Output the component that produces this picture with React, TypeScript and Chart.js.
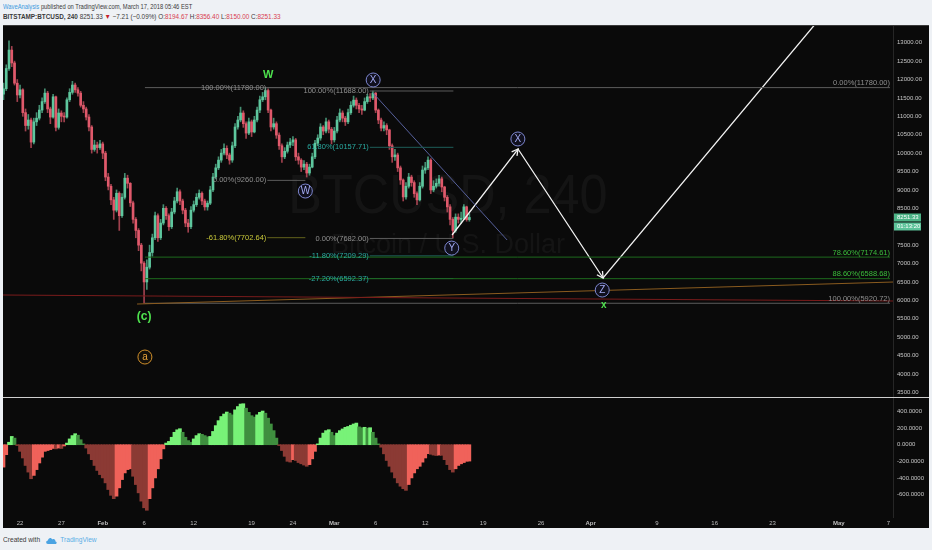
import React, { useEffect, useRef } from "react";
import { Chart, registerables } from "chart.js";
Chart.register(...registerables);

// ---------- time base: day numbers (Jan 1 2018 = 0), 8h candles ----------
const START_DAY = 19; // Jan 20 2018
const CANDLE_STEP = 1 / 3;
const X_MIN = 18.94;
const X_MAX = 126.56;

// ---------- price data (BITSTAMP:BTCUSD) ----------
const opens = [11600,11750,12300,12800,12450,11900,11580,11720,11100,10750,
10900,10300,10850,10950,11170,11400,11630,11200,10980,11530,
10700,11090,11000,10980,11450,11650,11850,11720,11630,11300,
11200,10980,10710,10100,10220,10150,10250,10000,9350,9100,
8730,8450,8910,8300,8800,9320,9180,8650,8200,7900,
7500,7010,6500,6900,7300,7700,8300,7700,8100,8500,
8300,8000,8400,8700,8950,8700,8450,8100,8000,8450,
8600,8800,8910,8700,8540,8640,9000,9350,9600,9810,
10000,10130,9950,9810,10200,10710,10900,11090,10800,10545,
10850,10575,10900,11170,11450,11530,11700,11170,10710,10800,
10490,10200,9900,10050,10220,10300,10360,9900,9810,9620,
9700,9460,9620,9900,10270,10410,10710,10600,10850,10650,
10360,10600,10900,11090,10950,10850,11100,11300,11440,11300,
11200,11170,11400,11530,11500,11630,11170,10900,10680,10750,
10630,10200,9900,9950,9600,9270,8810,9100,9350,9200,
8900,8730,9100,9540,9600,9810,9000,9100,9180,9300,
9080,8800,8540,8200,7900,8260,8200,8230,8540,8194.67];

const highs = [11900,12400,13050,12900,12500,12000,11850,11750,11200,11050,
10950,10950,11100,11300,11500,11750,11680,11250,11600,11550,
11200,11150,11100,11500,11750,11950,11900,11780,11680,11400,
11250,11050,10750,10350,10300,10350,10300,10050,9450,9150,
8800,9000,8950,8900,9450,9400,9200,8700,8250,7950,
7550,7050,7100,7500,7800,8400,8350,8200,8600,8550,
8350,8500,8800,9050,9000,8750,8500,8200,8550,8700,
8900,9000,8950,8750,8700,9100,9450,9700,9900,10100,
10250,10200,10000,10300,10800,11000,11250,11150,10850,10950,
10900,11000,11250,11550,11650,11780,11750,11200,10950,10850,
10550,10250,10150,10300,10400,10450,10400,10000,9850,9800,
9750,9700,10000,10350,10500,10800,10750,10950,10900,10700,
10700,11000,11200,11150,11000,11200,11400,11550,11500,11350,
11300,11500,11600,11620,11688,11650,11200,10950,10850,10800,
10650,10250,10100,10000,9650,9300,9200,9450,9400,9250,
8950,9200,9650,9750,9900,9850,9250,9300,9400,9350,
9100,8850,8600,8250,8350,8350,8400,8600,8560,8356.40];

const lows = [11450,11700,12250,12350,11850,11400,11500,11000,10600,10650,
10150,10250,10750,10900,11100,11350,11100,10800,10950,10600,
10650,10850,10850,10950,11400,11600,11650,11550,11250,11100,
10900,10600,10000,10050,10000,10100,9850,9250,9000,8600,
8200,8400,7900,8250,8750,9050,8550,8100,7700,7350,
6800,5920.72,6300,6850,7200,7650,7600,7650,8050,8200,
7900,7950,8350,8650,8600,8350,8000,7850,7950,8400,
8550,8750,8600,8450,8450,8600,8950,9300,9550,9750,
9950,9850,9700,9750,10150,10650,10850,10700,10400,10500,
10450,10550,10850,11100,11400,11450,11100,10600,10650,10400,
10100,9750,9850,10000,10150,10200,9800,9700,9500,9550,
9350,9400,9600,9850,10200,10350,10500,10550,10550,10250,
10300,10550,10850,10850,10750,10800,11050,11250,11200,11100,
11050,11150,11350,11400,11450,11100,10800,10600,10600,10500,
10100,9750,9800,9500,9150,8700,8750,9050,9100,8800,
8600,8700,9050,9450,9550,8900,8950,9050,9100,8950,
8700,8400,8050,7700,7850,8100,8100,8200,8150,8150];

const closes = [11750,12300,12800,12450,11900,11580,11720,11100,10750,10900,
10300,10850,10950,11170,11400,11630,11200,10980,11530,10700,
11090,11000,10980,11450,11650,11850,11720,11630,11300,11200,
10980,10710,10100,10220,10150,10250,10000,9350,9100,8730,
8450,8910,8300,8800,9320,9180,8650,8200,7900,7500,
7010,6500,6900,7300,7700,8300,7700,8100,8500,8300,
8000,8400,8700,8950,8700,8450,8100,8000,8450,8600,
8800,8910,8700,8540,8640,9000,9350,9600,9810,10000,
10130,9950,9810,10200,10710,10900,11090,10800,10545,10850,
10575,10900,11170,11450,11530,11700,11170,10710,10800,10490,
10200,9900,10050,10220,10300,10360,9900,9810,9620,9700,
9460,9620,9900,10270,10410,10710,10600,10850,10650,10360,
10600,10900,11090,10950,10850,11100,11300,11440,11300,11200,
11170,11400,11530,11500,11630,11170,10900,10680,10750,10630,
10200,9900,9950,9600,9270,8810,9100,9350,9200,8900,
8730,9100,9540,9600,9810,9000,9100,9180,9300,9080,
8800,8540,8200,7900,8260,8200,8230,8540,8194.67,8251.33];

// ---------- oscillator histogram ----------
const oscillator = [-270,-120,30,100,80,-10,-80,-160,-250,-330,
-410,-370,-300,-220,-150,-80,-70,-60,-45,-50,
-40,-45,-15,20,70,110,133,115,60,10,
-40,-110,-180,-250,-310,-360,-400,-460,-540,-610,
-650,-620,-520,-420,-340,-300,-290,-380,-480,-580,
-680,-760,-790,-650,-520,-400,-290,-170,-50,20,
40,90,150,180,193,150,90,50,30,70,
110,133,125,110,95,100,160,230,290,340,
370,394,380,360,420,460,490,494,440,390,
350,333,360,390,406,380,320,250,170,80,
-10,-70,-140,-200,-209,-180,-190,-215,-230,-245,
-260,-240,-170,-80,10,80,140,170,181,150,
110,140,170,190,210,220,235,250,261,215,
205,210,200,205,150,80,10,-30,-110,-190,
-260,-330,-400,-460,-500,-530,-550,-480,-400,-340,
-290,-260,-210,-160,-108,-115,-125,-130,-125,-128,
-180,-240,-300,-330,-290,-250,-230,-215,-200,-197];

// ---------- axes ----------
const PRICE_MIN = 3374;
const PRICE_MAX = 13454;
const priceTicks = [3500,4000,4500,5000,5500,6000,6500,7000,7500,8000,8500,9000,9500,10000,10500,11000,11500,12000,12500,13000];
const OSC_MIN = -871;
const OSC_MAX = 563;
const oscTicks = [400, 200, 0, -200, -400, -600];
const dateTickDays = [21, 26, 31, 36, 42, 49, 54, 59, 64, 70, 77, 84, 90, 98, 105, 112, 120, 126];
const dateTickLabels = ["22", "27", "Feb", "6", "12", "19", "24", "Mar", "6", "12", "19", "26", "Apr", "9", "16", "23", "May", "7"];
const monthLabels = ["Feb", "Mar", "Apr", "May"];

const LAST_PRICE = 8251.33;
const COUNTDOWN = "01:13:20";

// ---------- drawings (day, price) ----------
const fibRightSpan = [36.1, 126.2];
const fibRightLevels = [11780, 7174.61, 6588.68, 5920.72];
const fibRightLabels = ["0.00%(11780.00)", "78.60%(7174.61)", "88.60%(6588.68)", "100.00%(5920.72)"];

const fibWSpan = [50.9, 55.5];
const fibWLevels = [11780, 9260, 7702.64];
const fibWLabels = ["100.00%(11780.00)", "0.00%(9260.00)", "-61.80%(7702.64)"];

const fibXSpan = [63.3, 73.4];
const fibXLevels = [11688, 10157.71, 7682, 7209.29, 6592.37];
const fibXLabels = ["100.00%(11688.00)", "61.80%(10157.71)", "0.00%(7682.00)", "-11.80%(7209.29)", "-27.20%(6592.37)"];

const redLineDays = [18.94, 126.56];
const redLinePrices = [6145, 5982];
const orangeLineDays = [35.15, 126.56];
const orangeLinePrices = [5900, 6498];
const trendDays = [63.7, 79.9];
const trendPrices = [11630, 7639];
const pathDays = [73.24, 81.22, 91.5, 118.9];
const pathPrices = [7775, 10112, 6607, 13975];

const circleDays = [63.7, 55.5, 73.2, 81.2, 91.4];
const circlePrices = [11987, 8970, 7420, 10384, 6280];
const circleTexts = ["X", "W", "Y", "X", "Z"];

const greenDays = [51.0, 36.0, 91.6];
const greenPrices = [12120, 5547, 5873];
const greenTexts = ["W", "(c)", "x"];
const greenSizes = [11, 12, 10];

const orangeCircleDay = 36.1;
const orangeCirclePrice = 4460;

// ---------- styles ----------
const FONT = '"Liberation Sans", Arial, sans-serif';
const BG = "#0a0a0a";
const UP = "#5ec79e";
const DOWN = "#e0596b";
const UP_WICK = "rgba(94,199,158,0.7)";
const DOWN_WICK = "rgba(224,89,107,0.7)";
const GRAY_LINE = "#5c5c5c";
const GRAY_TEXT = "#8f8f8f";
const GREEN_LINE = "#1d6a1d";
const GREEN_TEXT = "#3bbd3b";
const TEAL_LINE = "#1e5e59";
const TEAL_TEXT = "#2aaaa0";
const YELLOW_LINE = "#62621c";
const YELLOW_TEXT = "#c8c83a";
const fibRightLine = [GRAY_LINE, GREEN_LINE, GREEN_LINE, GRAY_LINE];
const fibRightText = [GRAY_TEXT, GREEN_TEXT, GREEN_TEXT, GRAY_TEXT];
const fibWLine = [GRAY_LINE, GRAY_LINE, YELLOW_LINE];
const fibWText = [GRAY_TEXT, GRAY_TEXT, YELLOW_TEXT];
const fibXLine = [GRAY_LINE, TEAL_LINE, GRAY_LINE, TEAL_LINE, TEAL_LINE];
const fibXText = [GRAY_TEXT, TEAL_TEXT, GRAY_TEXT, TEAL_TEXT, TEAL_TEXT];

function lineDs(days: number[], prices: number[], color: string, width = 1) {
  return {
    type: "line" as const,
    data: days.map((d, i) => ({ x: d, y: prices[i] })),
    borderColor: color,
    borderWidth: width,
    pointRadius: 0,
    fill: false,
    tension: 0,
    order: 2,
  };
}

function levelDs(span: number[], levels: number[], colors: string[]) {
  return levels.map((lv, k) => lineDs(span, [lv, lv], colors[k]));
}

const noPad = (s: any) => {
  s.paddingTop = 0;
  s.paddingBottom = 0;
  s.paddingLeft = 0;
  s.paddingRight = 0;
};

const bgPlugin = {
  id: "bg",
  beforeDraw(chart: any) {
    const { ctx, width, height } = chart;
    ctx.save();
    ctx.fillStyle = BG;
    ctx.fillRect(0, 0, width, height);
    ctx.restore();
  },
};

function arrowHead(ctx: any, x0: number, y0: number, x1: number, y1: number) {
  const a = Math.atan2(y1 - y0, x1 - x0);
  const len = 7;
  ctx.beginPath();
  ctx.moveTo(x1 - len * Math.cos(a - 0.5), y1 - len * Math.sin(a - 0.5));
  ctx.lineTo(x1, y1);
  ctx.lineTo(x1 - len * Math.cos(a + 0.5), y1 - len * Math.sin(a + 0.5));
  ctx.stroke();
}

const mainPlugin = {
  id: "mainDecor",
  beforeDatasetsDraw(chart: any) {
    const { ctx, chartArea } = chart;
    const cx = (chartArea.left + chartArea.right) / 2;
    ctx.save();
    ctx.fillStyle = "rgba(255,255,255,0.045)";
    ctx.textAlign = "center";
    ctx.textBaseline = "alphabetic";
    ctx.font = `56px ${FONT}`;
    ctx.save();
    ctx.translate(cx, 188);
    ctx.scale(0.9, 1);
    ctx.fillText("BTCUSD, 240", 0, 0);
    ctx.restore();
    ctx.font = `27px ${FONT}`;
    ctx.fillText("Bitcoin / U.S. Dollar", cx, 228);
    ctx.restore();
  },
  afterDatasetsDraw(chart: any) {
    const { ctx, chartArea, scales } = chart;
    const px = (d: number) => scales.x.getPixelForValue(d);
    const py = (p: number) => scales.y.getPixelForValue(p);
    ctx.save();
    ctx.beginPath();
    ctx.rect(chartArea.left, chartArea.top, chartArea.width, chartArea.height);
    ctx.clip();

    ctx.font = `7.5px ${FONT}`;
    ctx.textAlign = "right";
    ctx.textBaseline = "bottom";
    fibRightLevels.forEach((lv, k) => {
      ctx.fillStyle = fibRightText[k];
      ctx.fillText(fibRightLabels[k], px(fibRightSpan[1]), py(lv) - 0.5);
    });
    ctx.textBaseline = "middle";
    fibWLevels.forEach((lv, k) => {
      ctx.fillStyle = fibWText[k];
      ctx.fillText(fibWLabels[k], px(fibWSpan[0]) - 1, py(lv));
    });
    fibXLevels.forEach((lv, k) => {
      ctx.fillStyle = fibXText[k];
      ctx.fillText(fibXLabels[k], px(fibXSpan[0]) - 1, py(lv));
    });

    ctx.strokeStyle = "#f2f2f2";
    ctx.lineWidth = 1.3;
    for (let k = 1; k < 3; k++) {
      arrowHead(ctx, px(pathDays[k - 1]), py(pathPrices[k - 1]), px(pathDays[k]), py(pathPrices[k]));
    }

    ctx.textAlign = "center";
    ctx.textBaseline = "middle";
    circleDays.forEach((d, k) => {
      const x = px(d), y = py(circlePrices[k]);
      ctx.beginPath();
      ctx.arc(x, y, 7, 0, Math.PI * 2);
      ctx.fillStyle = "#10101e";
      ctx.fill();
      ctx.strokeStyle = "#7d86cf";
      ctx.lineWidth = 1;
      ctx.stroke();
      ctx.fillStyle = "#a2a9f0";
      ctx.font = `10px ${FONT}`;
      ctx.fillText(circleTexts[k], x, y + 0.5);
    });
    {
      const x = px(orangeCircleDay), y = py(orangeCirclePrice);
      ctx.beginPath();
      ctx.arc(x, y, 7, 0, Math.PI * 2);
      ctx.fillStyle = "#14100a";
      ctx.fill();
      ctx.strokeStyle = "#d08f2a";
      ctx.stroke();
      ctx.fillStyle = "#eaa53c";
      ctx.font = `10px ${FONT}`;
      ctx.fillText("a", x, y);
    }
    greenDays.forEach((d, k) => {
      ctx.fillStyle = "#4ee24e";
      ctx.font = `bold ${greenSizes[k]}px ${FONT}`;
      ctx.fillText(greenTexts[k], px(d), py(greenPrices[k]));
    });
    ctx.restore();
  },
  afterDraw(chart: any) {
    const { ctx, chartArea, scales, width } = chart;
    const y = scales.y.getPixelForValue(LAST_PRICE);
    ctx.save();
    ctx.fillStyle = "#3a3a3a";
    ctx.fillRect(0, 0, width, 1);
    ctx.fillStyle = "#4db487";
    ctx.fillRect(chartArea.right + 1, y - 4, 27, 8);
    ctx.fillStyle = "#5dc39a";
    ctx.fillRect(chartArea.right + 1, y + 5, 27, 8);
    ctx.fillStyle = "#ffffff";
    ctx.font = `6px ${FONT}`;
    ctx.textAlign = "left";
    ctx.textBaseline = "middle";
    ctx.fillText(LAST_PRICE.toFixed(2), chartArea.right + 4, y);
    ctx.fillText(COUNTDOWN, chartArea.right + 4, y + 9);
    ctx.restore();
  },
};

const oscPlugin = {
  id: "oscDecor",
  afterDraw(chart: any) {
    const { ctx, width } = chart;
    ctx.save();
    ctx.fillStyle = "#cfcfcf";
    ctx.fillRect(0, 0, width, 1);
    ctx.restore();
  },
};

export default function App() {
  const mainRef = useRef<HTMLCanvasElement>(null);
  const oscRef = useRef<HTMLCanvasElement>(null);

  useEffect(() => {
    const candleX = closes.map((_, i) => START_DAY + i * CANDLE_STEP);
    const isUp = (i: number) => closes[i] >= opens[i];

    const wickDs = {
      type: "bar" as const,
      data: candleX.map((x, i) => ({ x, y: [lows[i], highs[i]] })),
      backgroundColor: (c: any) => (isUp(c.dataIndex) ? UP_WICK : DOWN_WICK),
      barThickness: 1,
      grouped: false,
      borderWidth: 0,
      order: 20,
    };
    const bodyDs = {
      type: "bar" as const,
      data: candleX.map((x, i) => ({ x, y: [opens[i], closes[i]] })),
      backgroundColor: (c: any) => (isUp(c.dataIndex) ? UP : DOWN),
      barThickness: 2,
      grouped: false,
      borderWidth: 0,
      minBarLength: 1,
      order: 10,
    };

    const datasets: any[] = [
      wickDs,
      bodyDs,
      lineDs(redLineDays, redLinePrices, "#7a1c1c"),
      lineDs(orangeLineDays, orangeLinePrices, "#8a5b1f"),
      ...levelDs(fibRightSpan, fibRightLevels, fibRightLine),
      ...levelDs(fibWSpan, fibWLevels, fibWLine),
      ...levelDs(fibXSpan, fibXLevels, fibXLine),
      lineDs(trendDays, trendPrices, "#56609c"),
      lineDs(pathDays, pathPrices, "#f2f2f2", 1.3),
    ];

    const tickFont = { size: 6, family: FONT };

    const main = new Chart(mainRef.current!, {
      type: "bar",
      data: { datasets },
      options: {
        responsive: false,
        animation: false,
        events: [],
        layout: { padding: { left: 0, right: 0, top: 1, bottom: 0 } },
        plugins: { legend: { display: false }, tooltip: { enabled: false } },
        scales: {
          x: { type: "linear", min: X_MIN, max: X_MAX, display: false, offset: false },
          y: {
            type: "linear",
            position: "right",
            min: PRICE_MIN,
            max: PRICE_MAX,
            afterFit: (s: any) => { s.width = 36; noPad(s); },
            afterBuildTicks: (s: any) => { s.ticks = priceTicks.map((v) => ({ value: v })); },
            grid: { display: false, drawTicks: false },
            border: { display: true, color: "#262626" },
            ticks: { color: "#c6c6c6", font: tickFont, padding: 4, autoSkip: false, callback: (v: any) => Number(v).toFixed(2) },
          },
        },
      } as any,
      plugins: [bgPlugin, mainPlugin],
    });

    const osc = new Chart(oscRef.current!, {
      type: "bar",
      data: {
        datasets: [
          {
            data: candleX.map((x, i) => ({ x, y: oscillator[i] })),
            backgroundColor: (c: any) => {
              const i = c.dataIndex;
              const v = oscillator[i];
              const prev = i > 0 ? oscillator[i - 1] : v;
              if (v >= 0) return v >= prev ? "#78f278" : "#3f8f3f";
              return v < prev ? "#8b3a34" : "#f0625a";
            },
            barThickness: 3,
            borderWidth: 0,
            grouped: false,
          } as any,
        ],
      },
      options: {
        responsive: false,
        animation: false,
        events: [],
        layout: { padding: { left: 0, right: 0, top: 1, bottom: 0 } },
        plugins: { legend: { display: false }, tooltip: { enabled: false } },
        scales: {
          x: {
            type: "linear",
            min: X_MIN,
            max: X_MAX,
            offset: false,
            afterFit: (s: any) => { s.height = 11; noPad(s); },
            afterBuildTicks: (s: any) => { s.ticks = dateTickDays.map((v) => ({ value: v })); },
            grid: { display: false, drawTicks: false },
            border: { display: false },
            ticks: {
              autoSkip: false,
              maxRotation: 0,
              padding: 3,
              color: "#bdbdbd",
              font: (c: any) => ({ size: 6, family: FONT, weight: monthLabels.includes(dateTickLabels[c.index]) ? "bold" : "normal" }),
              callback: (_v: any, idx: number) => dateTickLabels[idx],
            },
          },
          y: {
            type: "linear",
            position: "right",
            min: OSC_MIN,
            max: OSC_MAX,
            afterFit: (s: any) => { s.width = 36; noPad(s); },
            afterBuildTicks: (s: any) => { s.ticks = oscTicks.map((v) => ({ value: v })); },
            grid: { display: false, drawTicks: false },
            border: { display: true, color: "#262626" },
            ticks: { color: "#c6c6c6", font: tickFont, padding: 4, autoSkip: false, callback: (v: any) => Number(v).toFixed(4) },
          },
        },
      } as any,
      plugins: [bgPlugin, oscPlugin],
    });

    return () => {
      main.destroy();
      osc.destroy();
    };
  }, []);

  const red = { color: "#d8404f" };
  return (
    <div style={{ position: "absolute", left: 0, top: 0, width: 932, height: 550, background: "#eef1f5", overflow: "hidden", fontFamily: FONT }}>
      <div style={{ position: "absolute", left: 3, top: 2, fontSize: 7, lineHeight: "10px", color: "#3a3a3a", whiteSpace: "nowrap" }}>
        <div style={{ transform: "scaleX(0.83)", transformOrigin: "0 0" }}>
          <span style={{ color: "#3d9ae0" }}>WaveAnalysis</span> published on TradingView.com, March 17, 2018 05:46 EST
        </div>
        <div style={{ transform: "scaleX(0.91)", transformOrigin: "0 0" }}>
          <b>BITSTAMP:BTCUSD, 240</b> 8251.33 <span style={{ color: "#c41f2c" }}>▼</span> −7.21 (−0.09%) O:<span style={red}>8194.67</span> H:<span style={red}>8356.40</span> L:<span style={red}>8150.00</span> C:<span style={red}>8251.33</span>
        </div>
      </div>
      <canvas ref={mainRef} width={926} height={372} style={{ position: "absolute", left: 3, top: 25, width: 926, height: 372 }} />
      <canvas ref={oscRef} width={926} height={131} style={{ position: "absolute", left: 3, top: 397, width: 926, height: 131 }} />
      <div style={{ position: "absolute", left: 3, top: 535, fontSize: 7.5, lineHeight: "10px", color: "#3a3a3a", whiteSpace: "nowrap", display: "flex", alignItems: "center", transform: "scaleX(0.88)", transformOrigin: "0 0" }}>
        <span>Created with</span>
        <svg width="14" height="9" viewBox="0 0 14 9" style={{ marginLeft: 6, marginRight: 3 }}>
          <path d="M3 8 C0.5 8 0.5 4.5 3 4.5 C3.5 1.5 7 1 8 3.5 C9.5 2.5 12 3.5 11.5 5.5 C13.5 5.5 13.5 8 11.5 8 Z" fill="#4aa3e2" />
        </svg>
        <span style={{ color: "#5aaee6" }}>TradingView</span>
      </div>
    </div>
  );
}
